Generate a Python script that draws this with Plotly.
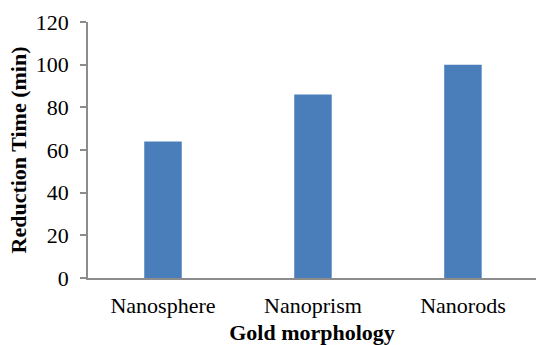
import plotly.graph_objects as go

categories = ["Nanosphere", "Nanoprism", "Nanorods"]
reduction_time = [64, 86, 100]
y_ticks = [0, 20, 40, 60, 80, 100, 120]

fig = go.Figure(go.Bar(x=categories, y=reduction_time, marker=dict(color="#4a7ebb", line=dict(width=0))))

font_family = "Liberation Serif, Times New Roman, serif"
fig.update_layout(
    width=536, height=345,
    margin=dict(l=88, r=0, t=22, b=67),
    plot_bgcolor="white", paper_bgcolor="white",
    bargap=0.75,
    showlegend=False,
    font=dict(family=font_family, color="black", size=22),
)
fig.update_xaxes(
    range=[-0.5, 2.487], automargin=False,
    showline=True, linecolor="#8c8c8c", linewidth=1.5,
    ticks="", showgrid=False, ticklabelstandoff=7,
    tickfont=dict(size=22, family=font_family),
    title=dict(text="<b>Gold morphology</b>", font=dict(size=22, family=font_family), standoff=9),
)
fig.update_yaxes(
    range=[0, 120], tickvals=y_ticks, automargin=False,
    showline=True, linecolor="#8c8c8c", linewidth=1.5,
    ticks="outside", ticklen=6, tickcolor="#8c8c8c", tickwidth=1.5,
    showgrid=False, zeroline=False, ticklabelstandoff=7,
    tickfont=dict(size=22, family=font_family),
    title=dict(text="<b>Reduction Time (min)</b>", font=dict(size=22, family=font_family), standoff=3),
)
fig.write_html("out.html", config={"displayModeBar": False},
               post_script="document.body.style.margin='0';document.body.style.overflow='hidden';")
